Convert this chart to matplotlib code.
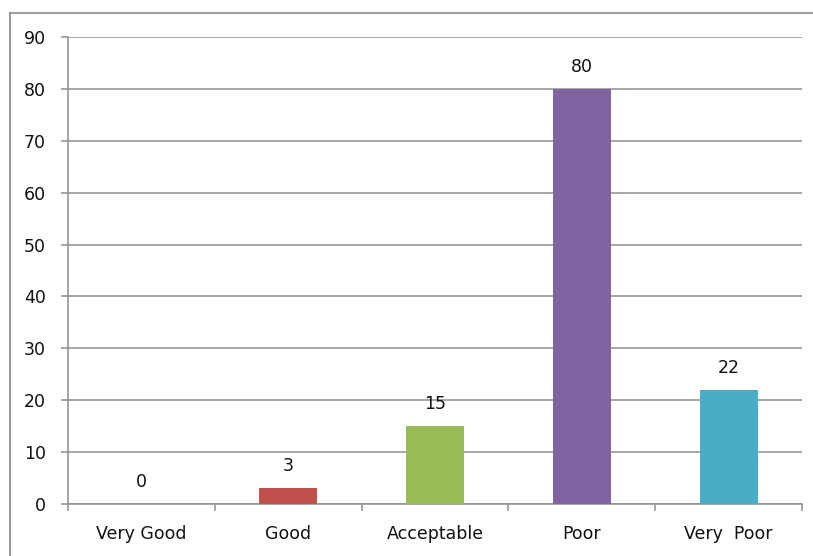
import matplotlib.pyplot as plt
from matplotlib.lines import Line2D
import numpy as np

# ratings and counts
categories = ['Very Good', 'Good', 'Acceptable', 'Poor', 'Very  Poor']
counts = [0, 3, 15, 80, 22]
colors = ['#4F81BD', '#C0504D', '#9BBB59', '#8064A2', '#4BACC6']
yticks = [0, 10, 20, 30, 40, 50, 60, 70, 80, 90]

grid_col = '#8e8e8e'
fs = 12.5

fig = plt.figure(figsize=(8.13, 5.56), dpi=100)
ax = fig.add_axes([68 / 813, 1 - 504 / 556, (802 - 68) / 813, (504 - 37) / 556])

x = np.arange(len(categories))
ax.bar(x, counts, width=0.395, color=colors, zorder=3)

for xi, v in zip(x, counts):
    ax.annotate(str(v), (xi, v), xytext=(0, 16), textcoords='offset points',
                ha='center', va='center', fontsize=fs, color='#111111')

ax.set_xlim(-0.5, len(categories) - 0.5)
ax.set_ylim(0, 90)
ax.set_yticks(yticks)
ax.yaxis.grid(True, color=grid_col, linewidth=1.1, zorder=0)
ax.set_axisbelow(True)

# category labels centred, tick marks on the boundaries
ax.set_xticks(x)
ax.set_xticklabels(categories)
ax.set_xticks(np.arange(-0.5, len(categories), 1.0), minor=True)
ax.tick_params(axis='x', which='major', length=0, pad=15, labelsize=fs, labelcolor='#111111')
ax.tick_params(axis='x', which='minor', length=5, width=1.1, color=grid_col)
ax.tick_params(axis='y', length=5, width=1.1, color=grid_col, pad=11,
               labelsize=fs, labelcolor='#111111')

for side in ['top', 'right']:
    ax.spines[side].set_visible(False)
for side in ['left', 'bottom']:
    ax.spines[side].set_color(grid_col)
    ax.spines[side].set_linewidth(1.1)

# chart area border
fig.add_artist(Line2D([10 / 813, 10 / 813], [0, 1 - 13 / 556], transform=fig.transFigure,
                      color='#8a8a8a', linewidth=1.2))
fig.add_artist(Line2D([10 / 813, 1], [1 - 13 / 556, 1 - 13 / 556], transform=fig.transFigure,
                      color='#8a8a8a', linewidth=1.2))

fig.savefig('out.png', dpi=100)
